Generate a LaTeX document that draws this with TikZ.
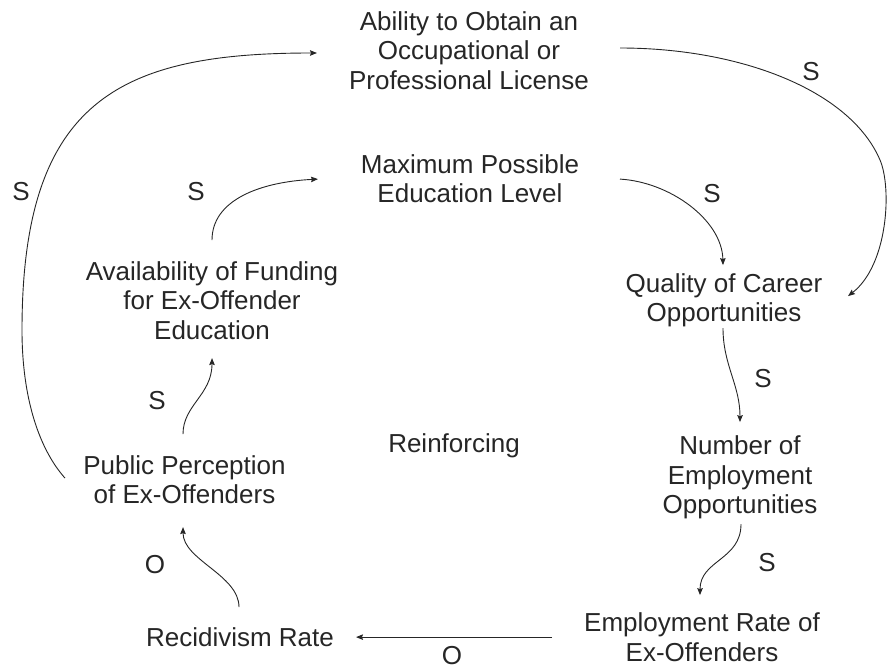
\documentclass[tikz,border=0pt]{standalone}
\usepackage{fontspec}
\setmainfont{Liberation Sans}
\usetikzlibrary{calc,arrows.meta}
\begin{document}
\begin{tikzpicture}[x=1pt,y=-1pt,
  lbl/.style={font=\fontsize{26}{29.5}\selectfont, align=center, inner sep=0pt, text=black!85},
  sgn/.style={font=\fontsize{26}{29.5}\selectfont, inner sep=0pt, anchor=base, text=black!85},
  conn/.style={draw=black!85, line width=0.9pt, -{Stealth[length=7pt,width=5.5pt,inset=1pt]}}]
\useasboundingbox (0,0) rectangle (888,669);
% concepts
\node[lbl] (lic)  at (469,53.6)  {\strut Ability to Obtain an\\Occupational or\\Professional License\strut};
\node[lbl] (edu)  at (470,182.1) {\strut Maximum Possible\\Education Level\strut};
\node[lbl] (fund) at (212,303.6) {\strut Availability of Funding\\for Ex-Offender\\Education\strut};
\node[lbl] (pub)  at (184.5,483.1) {\strut Public Perception\\of Ex-Offenders\strut};
\node[lbl] (rec)  at (240,640.1) {\strut Recidivism Rate\strut};
\node[lbl] (emp)  at (702,640.6) {\strut Employment Rate of\\Ex-Offenders\strut};
\node[lbl] (num)  at (740,478.1) {\strut Number of\\Employment\\Opportunities\strut};
\node[lbl] (qual) at (724,301.1) {\strut Quality of Career\\Opportunities\strut};
\node[lbl] (reinf) at (454,447) {\strut Reinforcing\strut};
% polarity labels
\node[sgn] (s1) at (21,200) {S};
\node[sgn] (s2) at (196,200) {S};
\node[sgn] (s3) at (811,80) {S};
\node[sgn] (s4) at (712,202) {S};
\node[sgn] (s5) at (157,409) {S};
\node[sgn] (s6) at (763,387) {S};
\node[sgn] (s7) at (767,571) {S};
\node[sgn] (o1) at (155,573) {O};
\node[sgn] (o2) at (452,664) {O};
% connectors
\draw[conn] ($(pub.center)+(-119.5,-5)$) .. controls (40,450) and (22,400) .. (22,330)
            .. controls (22,100) and (120,53) .. ($(lic.center)+(-152,-0.6)$);
\draw[conn] ($(lic.center)+(151,-5.6)$) .. controls (740,48) and (850,90) .. (880,160)
            .. controls (892,188) and (888,265) .. ($(qual.center)+(124,-5)$);
\draw[conn] ($(edu.center)+(150,-3)$) .. controls (670,182) and (722,220) .. ($(qual.center)+(-1,-36)$);
\draw[conn] ($(fund.center)+(0,-63.5)$) .. controls (212,200) and (260,182) .. ($(edu.center)+(-152,-3)$);
\draw[conn] ($(pub.center)+(-1.5,-49)$) .. controls (183,405) and (212,395) .. ($(fund.center)+(0,54.5)$);
\draw[conn] ($(rec.center)+(-1,-33)$) .. controls (239,575) and (183,560) .. ($(pub.center)+(-1.5,44)$);
\draw[conn] ($(qual.center)+(-1,27)$) .. controls (723,365) and (740,385) .. ($(num.center)+(0,-56)$);
\draw[conn] ($(num.center)+(1,46)$) .. controls (741,560) and (700,560) .. ($(emp.center)+(-2,-45.5)$);
\draw[conn] ($(emp.center)+(-150,-3.5)$) -- ($(rec.center)+(116,-3)$);
\end{tikzpicture}
\end{document}
